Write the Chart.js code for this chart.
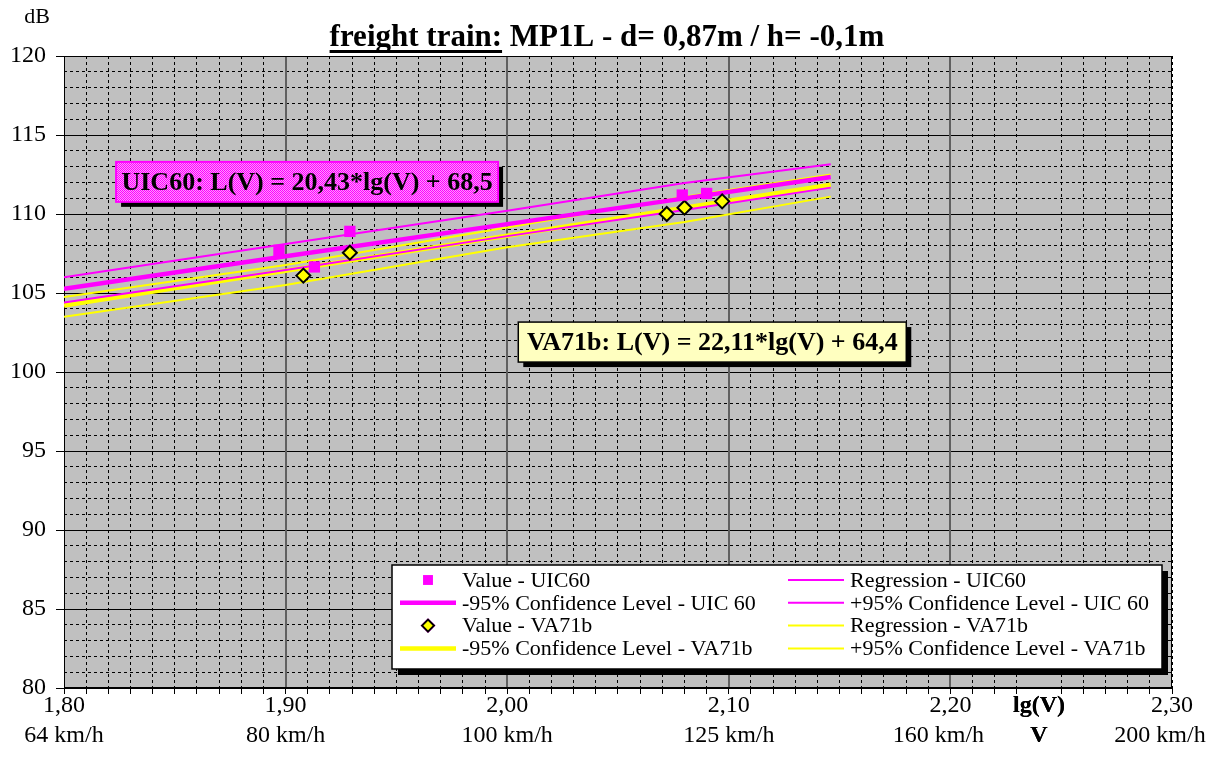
<!DOCTYPE html>
<html>
<head>
<meta charset="utf-8">
<script src="https://cdn.jsdelivr.net/npm/chart.js@4.4.1/dist/chart.umd.min.js"></script>
<style>
body { margin: 0; background: #fff; }
#wrap { width: 1210px; height: 776px; }
</style>
</head>
<body>
<div id="wrap"><canvas id="myChart" width="1210" height="776"></canvas></div>
<script>
// tick labels of the lg(V) axis (two rows) and the dB axis
const xTickVals = [1.80, 1.90, 2.00, 2.10, 2.20, 2.24, 2.30];
const lgLabels = ['1,80', '1,90', '2,00', '2,10', '2,20', 'lg(V)', '2,30'];
const kmhLabels = ['64 km/h', '80 km/h', '100 km/h', '125 km/h', '160 km/h    ', 'V', '200 km/h    '];
const yTickVals = [80, 85, 90, 95, 100, 105, 110, 115, 120];

// measured values
const uicLg = [1.897, 1.913, 1.929, 2.079, 2.090];
const uicDb = [107.7, 106.65, 108.9, 111.2, 111.3];
const vaLg = [1.908, 1.929, 2.072, 2.080, 2.097];
const vaDb = [106.1, 107.55, 110.0, 110.4, 110.8];

// regression / confidence lines
const lineLg = [1.80, 1.90, 2.00, 2.08, 2.146];
const uicTop = [106.0, 108.1, 110.2, 111.96, 113.15];
const uicMid = [105.27, 107.32, 109.36, 110.99, 112.34];
const uicBottom = [104.4, 106.45, 108.6, 110.25, 111.67];
const vaTop = [104.75, 106.77, 109.15, 111.1, 112.5];
const vaMid = [104.2, 106.41, 108.62, 110.39, 111.85];
const vaBottom = [103.5, 105.5, 107.9, 109.5, 111.1];

const MAG = '#FF00FF';
const YEL = '#FFFF00';
const SERIF = "'Liberation Serif', 'Times New Roman', serif";

function pts(xs, ys) {
    return xs.map((x, i) => ({ x: x, y: ys[i] }));
}

function lineSet(label, ys, color, width) {
    return {
        label: label,
        data: pts(lineLg, ys),
        showLine: true,
        borderColor: color,
        backgroundColor: color,
        borderWidth: width,
        pointRadius: 0,
        tension: 0,
        order: 2
    };
}

// legend order: left column, right column, row by row
const datasets = [
    {
        label: 'Value - UIC60',
        data: pts(uicLg, uicDb),
        pointStyle: 'rect',
        pointRadius: 8,
        backgroundColor: MAG,
        borderColor: MAG,
        borderWidth: 0,
        order: 0
    },
    lineSet('Regression - UIC60', uicBottom, MAG, 2),
    lineSet('-95% Confidence Level - UIC 60', uicMid, MAG, 4.5),
    lineSet('+95% Confidence Level - UIC 60', uicTop, MAG, 2),
    {
        label: 'Value - VA71b',
        data: pts(vaLg, vaDb),
        pointStyle: 'rectRot',
        pointRadius: 7,
        backgroundColor: YEL,
        borderColor: '#000',
        borderWidth: 2,
        order: 0
    },
    lineSet('Regression - VA71b', vaTop, YEL, 2),
    lineSet('-95% Confidence Level - VA71b', vaMid, YEL, 4.5),
    lineSet('+95% Confidence Level - VA71b', vaBottom, YEL, 2)
];

// dotted pink fill of the UIC60 box
function pinkPattern(ctx) {
    const c = document.createElement('canvas');
    c.width = 2; c.height = 2;
    const p = c.getContext('2d');
    p.fillStyle = '#FF99FF';
    p.fillRect(0, 0, 2, 2);
    p.fillStyle = MAG;
    p.fillRect(0, 0, 1, 1);
    p.fillRect(1, 1, 1, 1);
    return ctx.createPattern(c, 'repeat');
}

const gridPlugin = {
    id: 'gridPlugin',
    beforeDraw(chart) {
        const { ctx, chartArea: a } = chart;
        ctx.save();
        ctx.fillStyle = '#C0C0C0';
        ctx.fillRect(a.left, a.top, a.right - a.left, a.bottom - a.top);
        ctx.restore();
    },
    beforeDatasetsDraw(chart) {
        const { ctx, chartArea: a, scales } = chart;
        ctx.save();
        // major dB lines
        ctx.strokeStyle = '#000';
        ctx.lineWidth = 1;
        yTickVals.forEach(v => {
            const y = Math.round(scales.y.getPixelForValue(v)) + 0.5;
            ctx.beginPath();
            ctx.moveTo(a.left, y);
            ctx.lineTo(a.right, y);
            ctx.stroke();
        });
        // major lg(V) lines
        ctx.strokeStyle = '#606060';
        ctx.lineWidth = 2;
        [1.9, 2.0, 2.1, 2.2].forEach(v => {
            const x = Math.round(scales.x.getPixelForValue(v));
            ctx.beginPath();
            ctx.moveTo(x, a.top);
            ctx.lineTo(x, a.bottom);
            ctx.stroke();
        });
        ctx.strokeStyle = '#000';
        ctx.lineWidth = 1;
        ctx.strokeRect(a.left + 0.5, a.top + 0.5, a.right - a.left - 1, a.bottom - a.top);
        ctx.lineWidth = 2;
        ctx.beginPath();
        ctx.moveTo(a.left, a.bottom);
        ctx.lineTo(a.right, a.bottom);
        ctx.stroke();
        ctx.restore();
    }
};

const boxPlugin = {
    id: 'boxPlugin',
    afterDatasetsDraw(chart, args, opts) {
        const { ctx, scales } = chart;
        ctx.save();
        opts.boxes.forEach(b => {
            const x = scales.x.getPixelForValue(b.lg);
            const y = scales.y.getPixelForValue(b.db);
            ctx.fillStyle = '#000';
            ctx.fillRect(x + 5, y + 5, b.w, b.h);
            ctx.fillStyle = b.fill === 'pattern' ? pinkPattern(ctx) : b.fill;
            ctx.fillRect(x, y, b.w, b.h);
            ctx.strokeStyle = b.border;
            ctx.lineWidth = b.borderWidth;
            ctx.strokeRect(x, y, b.w, b.h);
            ctx.fillStyle = '#000';
            ctx.font = 'bold 26px ' + SERIF;
            ctx.textAlign = 'center';
            ctx.textBaseline = 'middle';
            ctx.fillText(b.text, x + b.w / 2, y + b.h / 2 + 1);
        });

        // legend
        const L = opts.legend;
        ctx.fillStyle = '#000';
        ctx.fillRect(L.x + 6, L.y + 6, L.w, L.h);
        ctx.fillStyle = '#fff';
        ctx.fillRect(L.x, L.y, L.w, L.h);
        ctx.strokeStyle = '#000';
        ctx.lineWidth = 1.5;
        ctx.strokeRect(L.x, L.y, L.w, L.h);
        ctx.font = '22px ' + SERIF;
        ctx.textAlign = 'left';
        ctx.textBaseline = 'middle';
        chart.data.datasets.forEach((ds, i) => {
            const col = i % 2;
            const row = Math.floor(i / 2);
            const x0 = L.cols[col];
            const y0 = L.y + 15 + row * 22.8;
            if (ds.showLine) {
                ctx.strokeStyle = ds.borderColor;
                ctx.lineWidth = ds.borderWidth;
                ctx.beginPath();
                ctx.moveTo(x0, y0);
                ctx.lineTo(x0 + 56, y0);
                ctx.stroke();
            } else {
                Chart.helpers.drawPoint(ctx, {
                    pointStyle: ds.pointStyle,
                    radius: ds.pointRadius - 1,
                    rotation: 0,
                    borderWidth: ds.borderWidth
                }, x0 + 28, y0);
                ctx.fillStyle = ds.backgroundColor;
                ctx.strokeStyle = ds.borderColor;
                ctx.lineWidth = ds.borderWidth;
                ctx.fill();
                if (ds.borderWidth) ctx.stroke();
            }
            ctx.fillStyle = '#000';
            ctx.fillText(ds.label, x0 + 62, y0 + 1);
        });
        ctx.restore();
    },
    afterDraw(chart) {
        const ctx = chart.ctx;
        ctx.save();
        ctx.fillStyle = '#000';
        ctx.font = '22px ' + SERIF;
        ctx.textAlign = 'center';
        ctx.textBaseline = 'middle';
        ctx.fillText('dB', 37, 17);

        const t1 = 'freight train:';
        const t2 = ' MP1L - d= 0,87m / h= -0,1m';
        ctx.font = 'bold 31px ' + SERIF;
        const w1 = ctx.measureText(t1).width;
        const w2 = ctx.measureText(t2).width;
        const x0 = 607 - (w1 + w2) / 2;
        ctx.textAlign = 'left';
        ctx.textBaseline = 'alphabetic';
        ctx.fillText(t1, x0, 46);
        ctx.fillText(t2, x0 + w1, 46);
        ctx.fillRect(x0, 50, w1, 3);
        ctx.restore();
    }
};

function xTicks(scale) {
    const t = [];
    for (let i = 0; i <= 50; i++) t.push({ value: Math.round(180 + i) / 100 });
    t.push({ value: 2.24 });
    scale.ticks = t;
}

function yTicks(scale) {
    const t = [];
    for (let v = 80; v <= 120; v++) t.push({ value: v });
    scale.ticks = t;
}

new Chart(document.getElementById('myChart'), {
    type: 'scatter',
    data: { datasets: datasets },
    plugins: [gridPlugin, boxPlugin],
    options: {
        responsive: false,
        animation: false,
        layout: { padding: { left: 0, top: 56, right: 38, bottom: 0 } },
        plugins: {
            legend: { display: false },
            tooltip: { enabled: false },
            boxPlugin: {
                boxes: [
                    { text: 'UIC60: L(V) = 20,43*lg(V) + 68,5', lg: 1.8235, db: 113.3, w: 382, h: 40,
                      fill: 'pattern', border: MAG, borderWidth: 2 },
                    { text: 'VA71b: L(V) = 22,11*lg(V) + 64,4', lg: 2.005, db: 103.16, w: 388, h: 40,
                      fill: '#FFFFC0', border: '#000', borderWidth: 1.5 }
                ],
                legend: { x: 392, y: 565, w: 770, h: 104, cols: [400, 788] }
            }
        },
        scales: {
            x: {
                type: 'linear',
                min: 1.8,
                max: 2.3,
                afterBuildTicks: xTicks,
                afterFit(scale) { scale.height = 88; },
                grid: {
                    color: ctx => (ctx.tick && ctx.tick.value === 2.24) ? 'transparent' : '#000',
                    lineWidth: 1,
                    borderDash: [3, 3],
                    tickLength: 6,
                    tickColor: ctx => (ctx.tick && ctx.tick.value === 2.24) ? 'transparent' : '#000',
                    tickBorderDash: []
                },
                border: { display: false, dash: [3, 3] },
                ticks: {
                    autoSkip: false,
                    maxRotation: 0,
                    padding: -3,
                    color: '#000',
                    font: ctx => ({
                        family: SERIF,
                        size: 24,
                        lineHeight: 1.25,
                        weight: (ctx.tick && ctx.tick.value === 2.24) ? 'bold' : 'normal'
                    }),
                    callback: function(value) {
                        const i = xTickVals.findIndex(v => Math.abs(v - value) < 1e-6);
                        return i < 0 ? '' : [lgLabels[i], kmhLabels[i]];
                    }
                }
            },
            y: {
                type: 'linear',
                min: 80,
                max: 120,
                afterBuildTicks: yTicks,
                afterFit(scale) { scale.width = 64; },
                grid: {
                    color: '#000',
                    lineWidth: 1,
                    borderDash: [3, 3],
                    tickLength: 8,
                    tickColor: ctx => (ctx.tick && ctx.tick.value % 5 === 0) ? '#000' : 'transparent',
                    tickBorderDash: []
                },
                border: { display: false, dash: [3, 3] },
                ticks: {
                    autoSkip: false,
                    padding: 10,
                    color: '#000',
                    font: { family: SERIF, size: 24 },
                    callback: function(value) {
                        return yTickVals.indexOf(value) < 0 ? '' : String(value);
                    }
                }
            }
        }
    }
});
</script>
</body>
</html>
